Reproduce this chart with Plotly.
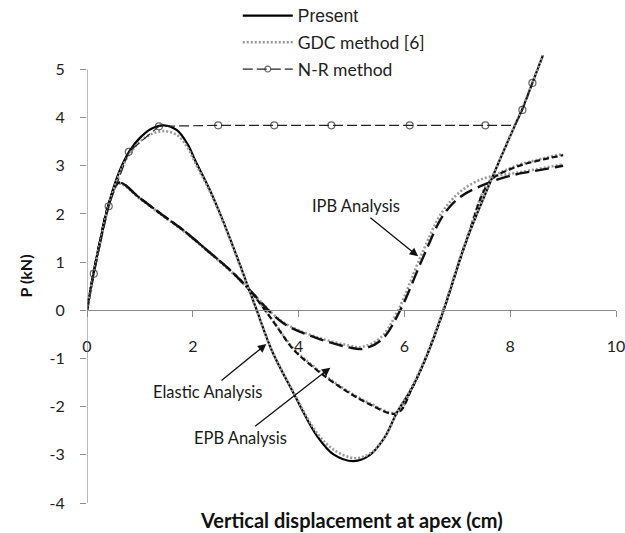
import plotly.graph_objects as go

# ---------------- data ----------------
# Elastic analysis - Present
el_x = [0, 0.12, 0.25, 0.4, 0.6, 0.8, 1.0, 1.2, 1.45, 1.7, 1.9, 2.05, 2.3, 2.5, 2.7, 2.9, 3.05, 3.2,
        3.5, 3.9, 4.35, 4.66, 5.04, 5.35, 5.62, 5.86, 6.15, 6.42, 6.74, 7.18, 7.62, 8.09, 8.23, 8.42, 8.62]
el_y = [0, 0.75, 1.45, 2.16, 2.85, 3.3, 3.58, 3.76, 3.84, 3.74, 3.45, 3.1, 2.55, 2.05, 1.5, 0.92, 0.47, 0.03,
        -0.85, -1.71, -2.61, -2.99, -3.13, -3.0, -2.65, -2.12, -1.6, -0.95, 0.0, 1.47, 2.65, 3.84, 4.18, 4.72, 5.3]
# Elastic analysis - GDC method [6]
gdc_el_x = [0, 0.12, 0.25, 0.4, 0.6, 0.8, 1.0, 1.2, 1.45, 1.7, 1.9, 2.05, 2.3, 2.5, 2.7, 2.9, 3.05, 3.2,
            3.5, 3.9, 4.35, 4.7, 5.08, 5.38, 5.64, 5.86, 6.15, 6.42, 6.74, 7.18, 7.62, 8.09, 8.23, 8.42, 8.62]
gdc_el_y = [0, 0.72, 1.42, 2.12, 2.8, 3.24, 3.5, 3.65, 3.72, 3.64, 3.38, 3.05, 2.52, 2.03, 1.48, 0.9, 0.46, 0.02,
            -0.84, -1.69, -2.55, -2.92, -3.07, -2.95, -2.62, -2.12, -1.58, -0.94, 0.02, 1.48, 2.66, 3.85, 4.19, 4.73, 5.3]
# N-R method
nr_x = [0, 0.128, 0.41, 0.79, 1.36, 2.48, 3.54, 4.62, 6.1, 7.53, 8.09, 8.23, 8.42]
nr_y = [0, 0.76, 2.16, 3.29, 3.82, 3.84, 3.84, 3.84, 3.84, 3.84, 3.84, 4.16, 4.72]
nr_marked = [False, True, True, True, True, True, True, True, True, True, False, True, True]
# EPB analysis - Present
epb_x = [0, 0.12, 0.25, 0.4, 0.6, 1.0, 1.4, 1.8, 2.3, 2.7, 3.05, 3.5, 3.9, 4.3, 4.66, 5.29, 5.86,
         6.15, 6.42, 6.74, 7.18, 7.62, 8.07, 8.5, 9.0]
epb_y = [0, 0.75, 1.45, 2.16, 2.65, 2.33, 2.0, 1.68, 1.22, 0.84, 0.45, -0.2, -0.81, -1.2, -1.5, -1.92, -2.14,
         -1.6, -0.95, 0.0, 1.47, 2.68, 2.96, 3.1, 3.22]
# EPB analysis - GDC
gdc_epb_x = [0, 0.12, 0.25, 0.4, 0.6, 1.0, 1.4, 1.8, 2.3, 2.7, 3.05, 3.5, 3.9, 4.3, 4.66, 5.29, 5.86,
             6.15, 6.42, 6.74, 7.18, 7.62, 8.07, 8.5, 9.0]
gdc_epb_y = [0, 0.73, 1.43, 2.13, 2.63, 2.32, 1.99, 1.67, 1.21, 0.83, 0.45, -0.19, -0.79, -1.18, -1.48, -1.9, -2.12,
             -1.58, -0.93, 0.02, 1.49, 2.7, 2.98, 3.12, 3.25]
# IPB analysis - Present
ipb_x = [0, 0.12, 0.25, 0.4, 0.6, 1.0, 1.4, 1.8, 2.3, 2.7, 3.05, 3.7, 4.33, 4.95, 5.22, 5.58, 5.92,
         6.35, 6.72, 7.05, 7.6, 8.1, 8.5, 9.0]
ipb_y = [0, 0.75, 1.45, 2.16, 2.65, 2.33, 2.0, 1.68, 1.22, 0.84, 0.45, -0.26, -0.57, -0.77, -0.8, -0.6, 0.0,
         1.09, 1.95, 2.35, 2.65, 2.82, 2.9, 3.0]
# IPB analysis - GDC
gdc_ipb_x = [0, 0.12, 0.25, 0.4, 0.6, 1.0, 1.4, 1.8, 2.3, 2.7, 3.05, 3.7, 4.33, 4.95, 5.2, 5.55, 5.88,
             6.32, 6.72, 7.1, 7.5, 7.8, 8.1, 8.5, 9.0]
gdc_ipb_y = [0, 0.73, 1.43, 2.13, 2.63, 2.32, 1.99, 1.67, 1.21, 0.83, 0.45, -0.24, -0.55, -0.73, -0.76, -0.57, 0.0,
             1.15, 2.05, 2.5, 2.74, 2.8, 2.85, 2.93, 3.03]

x_ticks = [0, 2, 4, 6, 8, 10]
y_ticks = [-4, -3, -2, -1, 0, 1, 2, 3, 4, 5]

# ---------------- styles ----------------
FONT = "Lato"
GREY_DOT = "#9a9a9a"

fig = go.Figure()

def gdc(x, y, show=False):
    fig.add_trace(go.Scatter(x=x, y=y, mode="lines", line=dict(color=GREY_DOT, width=2.6, dash="2px,2px", shape="spline"),
                             name="GDC method [6]", showlegend=show, legendgroup="b" if show else None))

gdc(gdc_epb_x, gdc_epb_y)
gdc(gdc_ipb_x, gdc_ipb_y)

fig.add_trace(go.Scatter(x=epb_x, y=epb_y, mode="lines", line=dict(color="#111", width=2.2, dash="6px,3px", shape="spline"),
                         showlegend=False))
fig.add_trace(go.Scatter(x=ipb_x, y=ipb_y, mode="lines", line=dict(color="#111", width=2.4, dash="14px,6px", shape="spline"),
                         showlegend=False))

fig.add_trace(go.Scatter(x=el_x, y=el_y, mode="lines", line=dict(color="#000", width=2.2, shape="spline"),
                         name="<span style='font-family:Liberation Sans;font-size:17.5px'>Present</span>",
                         legendgroup="a"))
gdc(gdc_el_x, gdc_el_y, show=True)

nr_sizes = [7 if m else 0 for m in nr_marked]
fig.add_trace(go.Scatter(x=nr_x, y=nr_y, mode="lines+markers",
                         line=dict(color="#222", width=1.2, dash="10px,4px"),
                         marker=dict(symbol="circle-open", size=nr_sizes, color="#222", line=dict(width=1.2)),
                         name="N-R method", legendgroup="c"))

# y axis line drawn only up to 5
fig.add_shape(type="line", xref="x", yref="y", x0=0, x1=0, y0=-4, y1=5, line=dict(color="#8c8c8c", width=1.2))

ann_font = dict(family=FONT, size=16.5, color="#1a1a1a")
fig.add_annotation(x=6.26, y=1.12, ax=-62, ay=-50, text="IPB Analysis", showarrow=True, arrowhead=2,
                   arrowsize=1.3, arrowwidth=1.3, arrowcolor="#111", font=ann_font)
fig.add_annotation(x=3.39, y=-0.7, ax=-59, ay=48, text="Elastic Analysis", showarrow=True, arrowhead=2,
                   arrowsize=1.3, arrowwidth=1.3, arrowcolor="#111", font=ann_font)
fig.add_annotation(x=4.6, y=-1.19, ax=-90, ay=70, text="EPB Analysis", showarrow=True, arrowhead=2,
                   arrowsize=1.3, arrowwidth=1.3, arrowcolor="#111", font=ann_font)

fig.add_annotation(xref="paper", yref="paper", x=0.4995, y=-0.038, text="<b>Vertical displacement at apex (cm)</b>",
                   showarrow=False, xanchor="center", yanchor="middle",
                   font=dict(family=FONT, size=20, color="#111"))
fig.add_annotation(xref="paper", yref="y", x=-0.117, y=0.705, text="<b>P (kN)</b>", textangle=-90,
                   showarrow=False, xanchor="center", yanchor="middle",
                   font=dict(family=FONT, size=16, color="#111"))

fig.update_layout(
    width=625, height=533,
    margin=dict(l=86.5, r=9, t=55, b=30, autoexpand=False),
    paper_bgcolor="white", plot_bgcolor="white",
    font=dict(family=FONT, size=16, color="#222"),
    showlegend=True,
    legend=dict(x=0.285, y=1.128, xanchor="left", yanchor="top", bgcolor="rgba(0,0,0,0)", traceorder="grouped",
                font=dict(family=FONT, size=17.5, color="#222"), tracegroupgap=1, itemwidth=50),
    xaxis=dict(range=[0, 10], tickvals=x_ticks, ticktext=[str(v) for v in x_ticks], automargin=False,
               showline=True, linecolor="#8c8c8c", linewidth=1.2, anchor="free", position=4 / 9.3,
               ticks="outside", ticklen=6, tickcolor="#8c8c8c", showgrid=False, zeroline=False,
               ticklabeloverflow="allow",
               ticklabelstandoff=15, tickfont=dict(family=FONT, size=16, color="#222")),
    yaxis=dict(range=[-4, 5.3], tickvals=y_ticks, ticktext=[str(v) for v in y_ticks], automargin=False,
               showline=False, ticks="outside", ticklen=6, tickcolor="#8c8c8c", showgrid=False, zeroline=False,
               ticklabelstandoff=12, tickfont=dict(family=FONT, size=16, color="#222")),
)

fig.write_html("out.html")
